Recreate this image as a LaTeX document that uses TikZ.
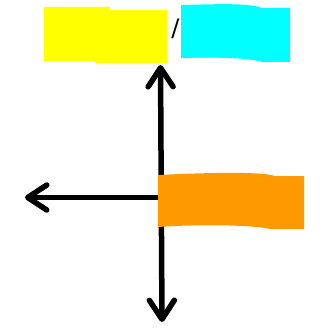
\documentclass[tikz,border=0pt]{standalone}
\usepackage{tikz}
\usepackage{fontspec}
\setmainfont{DejaVu Sans}
\usetikzlibrary{arrows.meta}
\definecolor{patchyellow}{HTML}{FFFF00}
\definecolor{patchcyan}{HTML}{00FFFF}
\definecolor{patchorange}{HTML}{FF9900}

\begin{document}
\begin{tikzpicture}[x=1pt,y=-1pt,
    axis/.style = {line width = 5.5pt, line cap = round},
    barb/.tip = {Straight Barb[length=19pt,width=25pt,round]}]
    \useasboundingbox (0,0) rectangle (320,329);
    % axes
    \coordinate (origin) at (160,197.5);
    \coordinate (top) at (160.5,65);
    \coordinate (bottom) at (162,322);
    \coordinate (left) at (25,197.5);
    \draw [axis, barb-barb] (top) -- (bottom);
    \draw [axis, -barb] (origin) -- (left);
    % label between the patches
    \node (slash) at (175.5,29) {\fontsize{24}{24}\selectfont /};
    % patches
    \fill [patchyellow] (44,7) -- (110,7) -- (110,10) -- (167,10) -- (167,63) -- (95,63) -- (95,61) -- (44,61) -- cycle;
    \fill [patchcyan] (181,5) .. controls (220,4) and (250,3) .. (262,8) -- (290,8) -- (290,62) -- (262,62) .. controls (250,58) and (220,57) .. (181,58) -- cycle;
    \fill [patchorange] (158,175) .. controls (200,173) and (260,171) .. (275,176) -- (304,176) -- (304,229) -- (270,229) .. controls (255,225) and (200,224) .. (158,227) -- cycle;
\end{tikzpicture}
\end{document}
